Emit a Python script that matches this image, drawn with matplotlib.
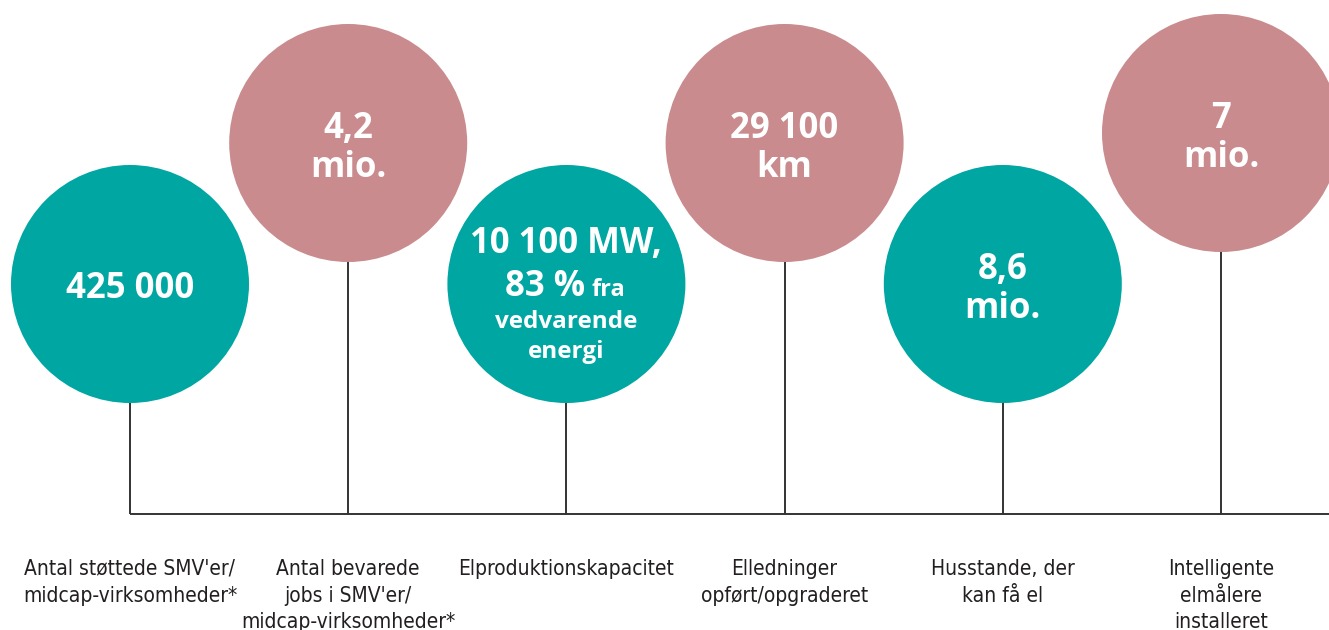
import matplotlib
matplotlib.use('Agg')
import matplotlib.pyplot as plt
from matplotlib.patches import Circle

# values shown in the circles (one list of lines per circle)
circle_texts = [
    ['425 000'],
    ['4,2', 'mio.'],
    None,  # special mixed-size text, drawn below
    ['29 100', 'km'],
    ['8,6', 'mio.'],
    ['7', 'mio.'],
]
bottom_labels = [
    ["Antal støttede SMV'er/", 'midcap-virksomheder*'],
    ['Antal bevarede', "jobs i SMV'er/", 'midcap-virksomheder*'],
    ['Elproduktionskapacitet'],
    ['Elledninger', 'opført/opgraderet'],
    ['Husstande, der', 'kan få el'],
    ['Intelligente', 'elmålere', 'installeret'],
]
mw_text = ['10 100 MW,', '83 %', 'fra', 'vedvarende', 'energi']

TEAL = '#00A6A1'
PINK = '#C98B8D'
LINE = '#333333'

W, H = 1329, 630
fig = plt.figure(figsize=(W / 100, H / 100), dpi=100)
ax = fig.add_axes([0, 0, 1, 1])
ax.set_xlim(0, W)
ax.set_ylim(H, 0)
ax.axis('off')

bold = dict(family=['Open Sans', 'DejaVu Sans'], weight='bold', color='white')
narrow = dict(family=['Liberation Sans Narrow', 'DejaVu Sans Condensed', 'DejaVu Sans'],
              stretch='condensed', color='#231f20', fontsize=15)

x0, step = 130, 218.2
y_low, y_high = 284, 143
r = 119
base_y = 514

xs = [x0 + i * step for i in range(len(bottom_labels))]

# horizontal base line
ax.plot([xs[0], W], [base_y, base_y], color=LINE, lw=1.4, solid_capstyle='butt')

for i, x in enumerate(xs):
    high = i % 2 == 1
    cy = y_high if high else y_low
    if i == 5:
        cy = 133
    col = PINK if high else TEAL
    ax.plot([x, x], [cy + r, base_y], color=LINE, lw=1.4, solid_capstyle='butt')
    ax.add_patch(Circle((x, cy), r, facecolor=col, edgecolor='none', zorder=3))

    lines = circle_texts[i]
    if lines is not None:
        if len(lines) == 1:
            ax.text(x, cy + 5, lines[0], ha='center', va='center', fontsize=25,
                    zorder=4, **bold)
        else:
            ax.text(x, cy - 5, lines[0], ha='center', va='baseline', fontsize=25,
                    zorder=4, **bold)
            ax.text(x, cy + 34, lines[1], ha='center', va='baseline', fontsize=25,
                    zorder=4, **bold)
    else:
        ax.text(x, cy - 31, mw_text[0], ha='center', va='baseline', fontsize=25,
                zorder=4, **bold)
        ax.text(x + 19, cy + 12, mw_text[1], ha='right', va='baseline', fontsize=25,
                zorder=4, **bold)
        ax.text(x + 25, cy + 12, mw_text[2], ha='left', va='baseline', fontsize=17,
                zorder=4, **bold)
        ax.text(x, cy + 44, mw_text[3], ha='center', va='baseline', fontsize=17.5,
                zorder=4, **bold)
        ax.text(x, cy + 74, mw_text[4], ha='center', va='baseline', fontsize=17.5,
                zorder=4, **bold)

    for j, t in enumerate(bottom_labels[i]):
        ax.text(x, 575 + j * 26.5, t, ha='center', va='baseline', **narrow)

fig.savefig('out.png', dpi=100, facecolor='white')
